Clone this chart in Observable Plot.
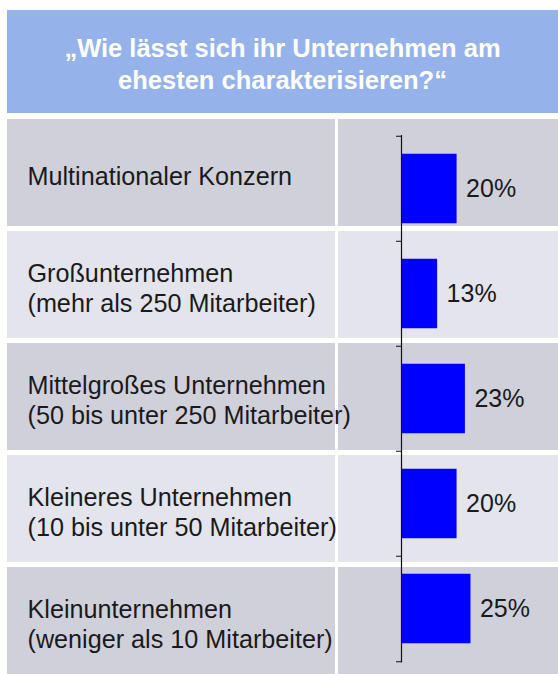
<!DOCTYPE html>
<html>
<head>
<meta charset="utf-8">
<script src="https://cdn.jsdelivr.net/npm/d3@7"></script>
<script src="https://cdn.jsdelivr.net/npm/@observablehq/plot@0.6"></script>
<style>
  html, body { margin: 0; padding: 0; background: #ffffff; }
  #wrap { position: relative; width: 558px; height: 674px; overflow: hidden; font-family: "Liberation Sans", Arial, sans-serif; }
  #header { position: absolute; left: 7px; top: 10px; width: 551px; height: 103px; background: #95b3ea;
            display: flex; align-items: center; justify-content: center; text-align: center;
            color: #ffffff; font-weight: bold; font-size: 25.5px; line-height: 32px; padding-top: 4px; box-sizing: border-box; }
  .layer { position: absolute; left: 0; top: 0; }
</style>
</head>
<body>
<div id="wrap">
  <div id="header"></div>
  <div id="table" class="layer"></div>
  <div id="bars" class="layer"></div>
</div>
<script>
// ---- data ----
const titleLines = ["\u201EWie lässt sich ihr Unternehmen am", "ehesten charakterisieren?\u201C"];
const categories = [
  "Multinationaler Konzern",
  "Großunternehmen\n(mehr als 250 Mitarbeiter)",
  "Mittelgroßes Unternehmen\n(50 bis unter 250 Mitarbeiter)",
  "Kleineres Unternehmen\n(10 bis unter 50 Mitarbeiter)",
  "Kleinunternehmen\n(weniger als 10 Mitarbeiter)"
];
const values = [20, 13, 23, 20, 25];

// ---- header ----
document.getElementById("header").innerHTML = titleLines.join("<br>");

const W = 558, H = 674;
const darkRow = "#d0d0da", lightRow = "#e3e4ec";
const rowFill = (d, i) => (i % 2 === 0 ? darkRow : lightRow);
const font = "Liberation Sans, Arial, sans-serif";

// ---- table (row backgrounds + category labels) ----
const table = Plot.plot({
  width: W, height: H,
  marginTop: 118, marginBottom: 0, marginLeft: 7, marginRight: 0,
  style: { background: "transparent", fontFamily: font },
  y: { type: "band", domain: categories, range: [118, H + 5], padding: 0, axis: null },
  color: { type: "identity" },
  marks: [
    Plot.cell(categories, { y: d => d, fill: rowFill, insetBottom: 5, insetRight: 223 }),
    Plot.cell(categories, { y: d => d, fill: rowFill, insetBottom: 5, insetLeft: 331 }),
    Plot.text(categories, {
      y: d => d, text: d => d, frameAnchor: "left", dx: 20, dy: 0,
      textAnchor: "start", fontSize: 25.2, lineHeight: 1.19, fill: "#1a1a1a"
    })
  ]
});
document.getElementById("table").append(table);

// ---- bars ----
const data = categories.map((c, i) => ({ label: c, value: values[i] }));
const mTop = 135, mBottom = 11.5;
const step = (H - mTop - mBottom) / categories.length;
const bars = Plot.plot({
  width: W, height: H,
  marginTop: mTop, marginBottom: mBottom, marginLeft: 401, marginRight: 0,
  style: { background: "transparent", fontFamily: font, overflow: "visible" },
  x: { domain: [0, 56.5], axis: null },
  y: { type: "band", domain: categories, padding: 0, axis: null },
  marks: [
    Plot.barX(data, { x: "value", y: "label", fill: "#0000ff", insetTop: 17.75, insetBottom: 17.75 }),
    Plot.ruleX([0], { stroke: "#111", strokeWidth: 1.2 }),
    Plot.axisY({ anchor: "left", tickSize: 5, tickFormat: () => "", label: null, dy: -step / 2, stroke: "#111" }),
    Plot.axisY([categories[categories.length - 1]], { anchor: "left", tickSize: 5, tickFormat: () => "", label: null, dy: step / 2, stroke: "#111" }),
    Plot.text(data, {
      x: "value", y: "label", text: d => d.value + "%", dx: 9, textAnchor: "start",
      fontSize: 25, fill: "#1a1a1a"
    })
  ]
});
document.getElementById("bars").append(bars);
</script>
</body>
</html>
